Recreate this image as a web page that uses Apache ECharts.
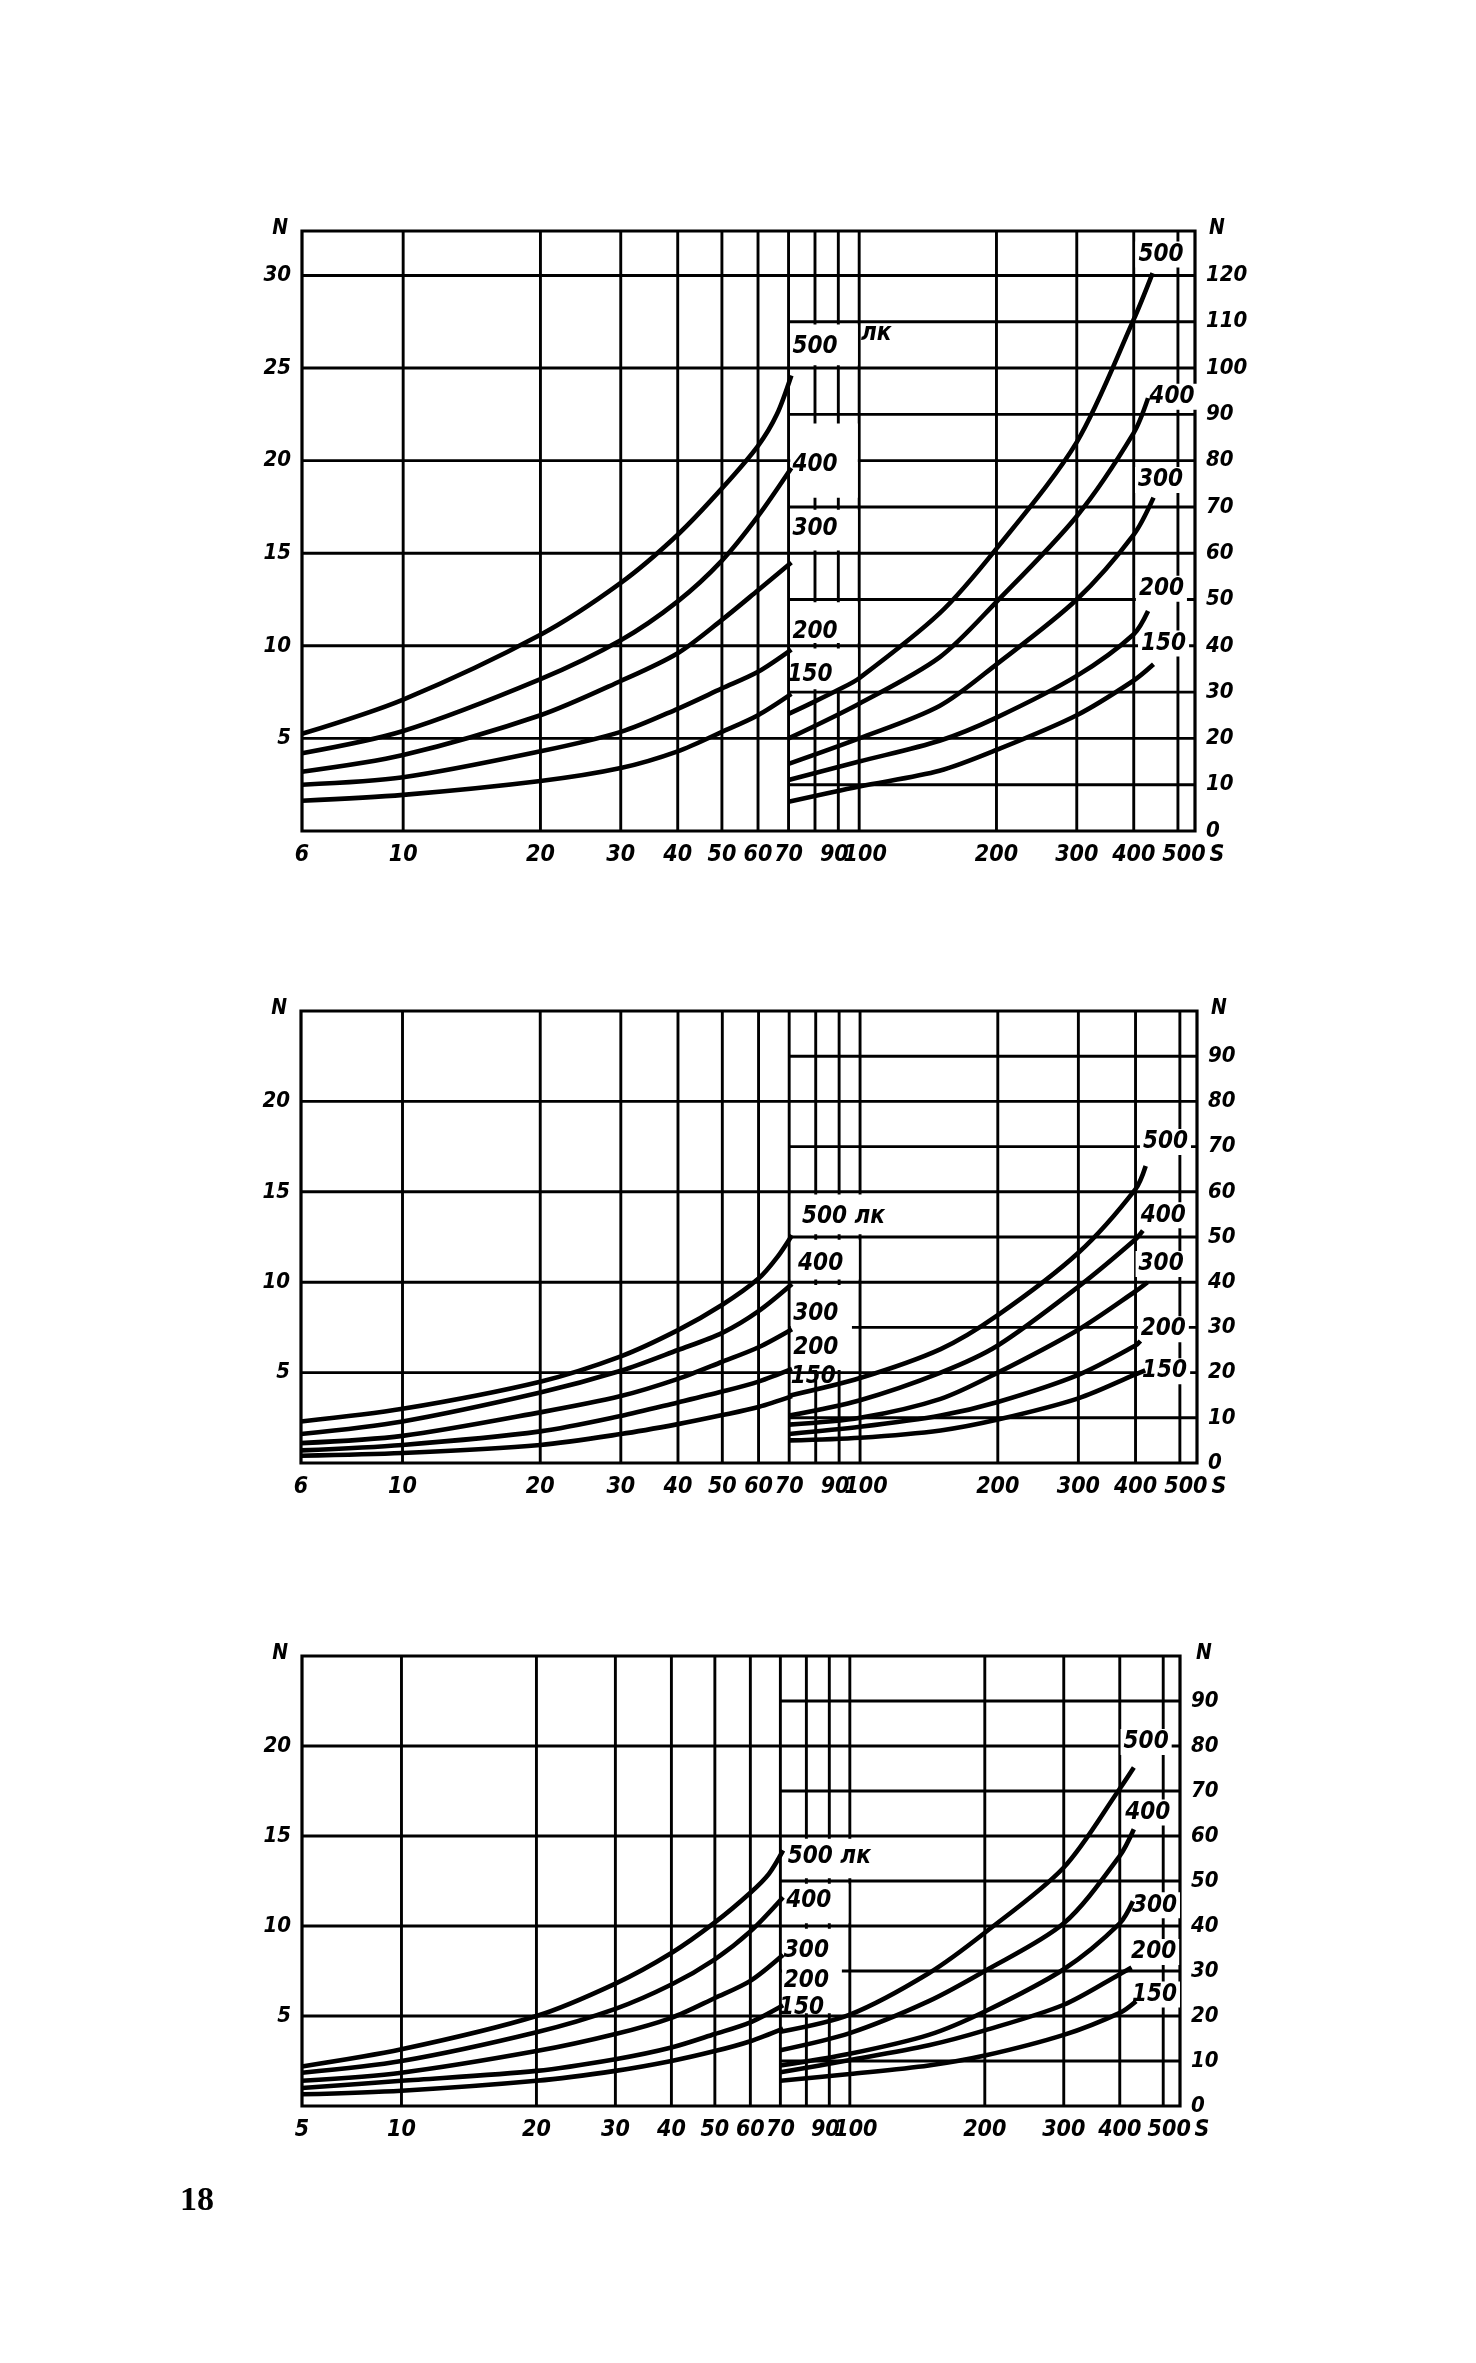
<!DOCTYPE html>
<html><head><meta charset="utf-8">
<script src="https://cdn.jsdelivr.net/npm/echarts@6/dist/echarts.min.js"></script>
<style>html,body{margin:0;padding:0;background:#fff}#c{width:1476px;height:2363px}</style>
</head><body><div id="c"></div>
<script>
// ===================== DATA =====================
// S (x, log scale) ; N (left scale for S<=70, right scale for S>=70)
const xTickValues = [6, 10, 20, 30, 40, 50, 60, 70, 90, 100, 200, 300, 400, 500];
const xTickLabelsA = ['6','10','20','30','40','50','60','70','90','100','200','300','400','500'];
const xTickLabelsC = ['5','10','20','30','40','50','60','70','90','100','200','300','400','500'];
const vGridS = [10, 20, 30, 40, 50, 60, 70, 80, 90, 100, 200, 300, 400, 500];
const leftTicks1 = [5, 10, 15, 20, 25, 30];
const rightTicks1 = [10, 20, 30, 40, 50, 60, 70, 80, 90, 100, 110, 120];
const leftTicks23 = [5, 10, 15, 20];
const rightTicks23 = [10, 20, 30, 40, 50, 60, 70, 80, 90];
const luxNames = ['500', '400', '300', '200', '150'];

// Panel 1
const p1L500 = [[6,5.25],[10,7.1],[20,10.6],[30,13.4],[40,16.0],[50,18.5],[60,20.8],[66,22.5],[71,24.6]];
const p1L400 = [[6,4.2],[10,5.4],[20,8.2],[30,10.3],[40,12.4],[50,14.6],[60,17.0],[71,19.6]];
const p1L300 = [[6,3.2],[10,4.1],[20,6.25],[30,8.1],[40,9.6],[50,11.4],[60,13.0],[71,14.5]];
const p1L200 = [[6,2.5],[10,2.9],[20,4.3],[30,5.35],[40,6.6],[50,7.7],[60,8.6],[71,9.8]];
const p1L150 = [[6,1.63],[10,1.95],[20,2.7],[30,3.4],[40,4.3],[50,5.35],[60,6.25],[71,7.4]];
const p1R500 = [[70,25.3],[80,28],[90,30.5],[100,33],[150,47],[200,61],[300,84],[400,110.5],[440,120.5]];
const p1R400 = [[70,20],[100,27.5],[150,37.5],[200,49.5],[300,68],[400,86],[430,93.5]];
const p1R300 = [[70,14.5],[100,20],[150,27],[200,36],[300,50],[400,64],[442,72]];
const p1R200 = [[70,11],[100,15],[150,19.5],[200,24.5],[300,33.5],[400,42.5],[430,47.5]];
const p1R150 = [[70,6.3],[100,9.6],[150,13.0],[200,17.5],[300,25],[400,32.5],[442,36]];
const p1MidLabels = [[80,104.5,'500'],[80,79,'400'],[80,65.3,'300'],[80,43,'200'],[78,33.7,'150']];
const p1UnitLabel = [[109,107.3,'лк']];
const p1EndLabels = [[459,124.5,'500'],[485,93.8,'400'],[458,75.8,'300'],[460,52.3,'200'],[465,40.5,'150']];

// Panel 2
const p2L500 = [[6,2.3],[10,3.0],[20,4.5],[30,5.9],[40,7.35],[50,8.75],[60,10.2],[66,11.4],[71,12.6]];
const p2L400 = [[6,1.6],[10,2.3],[20,3.9],[30,5.1],[40,6.25],[50,7.2],[60,8.4],[71,9.9]];
const p2L300 = [[6,1.1],[10,1.5],[20,2.8],[30,3.7],[40,4.65],[50,5.6],[60,6.4],[71,7.4]];
const p2L200 = [[6,0.7],[10,1.0],[20,1.75],[30,2.6],[40,3.35],[50,3.95],[60,4.5],[71,5.2]];
const p2L150 = [[6,0.4],[10,0.55],[20,1.0],[30,1.6],[40,2.15],[50,2.65],[60,3.1],[71,3.7]];
const p2R500 = [[70,14.9],[100,18.8],[150,25.2],[200,32.7],[300,46.5],[400,60.6],[421,65.7]];
const p2R400 = [[70,10.5],[100,13.9],[150,20],[200,26],[300,39],[400,49.5],[415,51.4]];
const p2R300 = [[70,8.5],[100,10],[150,14.2],[200,20],[300,29.5],[400,38],[425,40]];
const p2R200 = [[70,6.4],[100,8],[150,10.5],[200,13.5],[300,19.5],[400,26],[410,27]];
const p2R150 = [[70,5],[100,5.6],[150,7.2],[200,9.6],[300,14.3],[400,19.6],[420,20.5]];
const p2MidLabels = [[92,54.5,'500 лк'],[82,44,'400'],[80,33,'300'],[80,25.5,'200'],[79,19,'150']];
const p2EndLabels = [[465,71,'500'],[460,54.8,'400'],[455,44,'300'],[460,29.6,'200'],[463,20.3,'150']];

// Panel 3
const p3L500 = [[6,2.2],[10,3.15],[20,5.0],[30,6.8],[40,8.5],[50,10.2],[60,11.85],[66,12.9],[71,14.2]];
const p3L400 = [[6,1.85],[10,2.5],[20,4.1],[30,5.4],[40,6.75],[50,8.15],[60,9.7],[71,11.6]];
const p3L300 = [[6,1.4],[10,1.85],[20,3.05],[30,4.0],[40,4.9],[50,6.0],[60,6.95],[71,8.4]];
const p3L200 = [[6,1.0],[10,1.4],[20,1.95],[30,2.6],[40,3.25],[50,4.0],[60,4.65],[71,5.6]];
const p3L150 = [[6,0.65],[10,0.85],[20,1.4],[30,1.95],[40,2.5],[50,3.05],[60,3.6],[71,4.3]];
const p3R500 = [[70,16.5],[100,20.3],[150,29.5],[200,38.5],[300,53],[400,70.5],[430,75.2]];
const p3R400 = [[70,12.4],[100,16.2],[150,23.3],[200,30],[300,40.6],[400,55.6],[430,61.5]];
const p3R300 = [[70,9],[100,11.6],[150,15.8],[200,21],[300,30.4],[400,40.6],[428,45.5]];
const p3R200 = [[70,7.5],[100,10.2],[150,13.5],[200,16.8],[300,22.5],[400,29.3],[425,30.8]];
const p3R150 = [[70,5.6],[100,7.1],[150,9],[200,11.2],[300,15.8],[400,20.7],[435,23.3]];
const p3MidLabels = [[90,55.3,'500 лк'],[81,45.7,'400'],[80,34.5,'300'],[80,27.8,'200'],[78,21.9,'150']];
const p3EndLabels = [[458,80.9,'500'],[462,65.2,'400'],[478,44.6,'300'],[476,34.2,'200'],[478,24.8,'150']];

// ===================== LAYOUT / STYLE =====================
const FONT = "'DejaVu Sans Condensed','DejaVu Sans',sans-serif";
const panels = [
  {grid:{left:302, top:231, width:893, height:600}, xMin:6, xMax:545, lMax:32.4, rMax:129.6, lLab:30, rLab:120,
   lTicks:leftTicks1, rTicks:rightTicks1, xLabels:xTickLabelsA,
   left:[p1L500,p1L400,p1L300,p1L200,p1L150], right:[p1R500,p1R400,p1R300,p1R200,p1R150],
   mid:p1MidLabels.concat(p1UnitLabel), end:p1EndLabels,
   boxes:[[70.6,99.3,100.6,109.4],[70.6,99.3,72,88],[70.6,99.3,60.6,69.4],[70.6,99.3,40.6,49.4],[70.6,99.3,30.6,39.4]]},
  {grid:{left:301, top:1011, width:896, height:452}, xMin:6, xMax:545, lMax:25, rMax:100, lLab:20, rLab:90,
   lTicks:leftTicks23, rTicks:rightTicks23, xLabels:xTickLabelsA,
   left:[p2L500,p2L400,p2L300,p2L200,p2L150], right:[p2R500,p2R400,p2R300,p2R200,p2R150],
   mid:p2MidLabels, end:p2EndLabels,
   boxes:[[70.6,122,50.6,59.4],[70.6,99.3,40.6,49.4],[70.6,96,20.6,39.4]]},
  {grid:{left:302, top:1656, width:878, height:450}, xMin:6, xMax:545, lMax:25, rMax:100, lLab:20, rLab:90,
   lTicks:leftTicks23, rTicks:rightTicks23, xLabels:xTickLabelsC,
   left:[p3L500,p3L400,p3L300,p3L200,p3L150], right:[p3R500,p3R400,p3R300,p3R200,p3R150],
   mid:p3MidLabels, end:p3EndLabels,
   boxes:[[70.6,120,50.6,59.4],[70.6,99.3,40.6,49.4],[70.6,96,20.6,39.4]]}
];
const labelNudge = {'90':[-4,0], '100':[6,0], '500':[6,0]};
const textBase = {fontFamily:FONT, fontStyle:'italic', fontWeight:'bold', color:'#000', opacity:1,
  textBorderWidth:0, textBorderColor:'transparent'};

function segSeries(gi, yIdx, segs, z){
  return {type:'custom', xAxisIndex:gi, yAxisIndex:yIdx, z:z, silent:true, clip:false,
    data:segs, encode:{x:[0,2], y:[1,3]},
    renderItem:function(p, api){
      const a = api.coord([api.value(0), api.value(1)]);
      const b = api.coord([api.value(2), api.value(3)]);
      return {type:'line', shape:{x1:a[0],y1:a[1],x2:b[0],y2:b[1]}, style:{stroke:'#000', lineWidth:2.9}};
    }};
}
function boxSeries(gi, yIdx, boxes, z){
  return {type:'custom', xAxisIndex:gi, yAxisIndex:yIdx, z:z, silent:true, clip:false,
    data:boxes, encode:{x:[0,1], y:[2,3]},
    renderItem:function(p, api){
      const a = api.coord([api.value(0), api.value(3)]);
      const b = api.coord([api.value(1), api.value(2)]);
      return {type:'rect', shape:{x:a[0], y:a[1], width:b[0]-a[0], height:b[1]-a[1]}, style:{fill:'#fff'}};
    }};
}
function textSeries(gi, yIdx, items, z, extra){
  return {type:'scatter', xAxisIndex:gi, yAxisIndex:yIdx, z:z, silent:true, clip:false,
    symbolSize:0, itemStyle:{color:'#000'},
    data:items,
    label:Object.assign({show:true, position:'inside', formatter:function(p){return p.value[2];},
      fontSize:24}, textBase, extra||{})};
}

const option = {animation:false, backgroundColor:'#fff', grid:[], xAxis:[], yAxis:[], series:[],
  graphic:[{type:'text', left:180, top:2184, style:{text:'18', font:"bold 34px 'Liberation Serif', 'DejaVu Serif', serif", fill:'#000'}}]};

panels.forEach(function(P, gi){
  option.grid.push(Object.assign({show:true, borderColor:'#000', borderWidth:3.2, backgroundColor:'#fff'}, P.grid));
  option.xAxis.push({type:'log', logBase:10, gridIndex:gi, min:P.xMin, max:P.xMax,
    axisLine:{show:false}, axisTick:{show:false}, axisLabel:{show:false}, splitLine:{show:false}});
  const nameStyleL = Object.assign({fontSize:21, align:'right', verticalAlign:'middle', padding:[0,14,0,0]}, textBase);
  const nameStyleR = Object.assign({fontSize:21, align:'left', verticalAlign:'middle', padding:[0,0,0,gi===2?16:14]}, textBase);
  option.yAxis.push({type:'value', gridIndex:gi, position:'left', min:0, max:P.lMax, interval:5,
    name:'N', nameLocation:'end', nameGap:2, nameTextStyle:nameStyleL,
    axisLine:{show:false}, axisTick:{show:false}, splitLine:{show:false},
    axisLabel:Object.assign({fontSize:22, margin:11, formatter:function(v){return (v>0 && v<=P.lLab && v%5===0)? String(v):'';}}, textBase)});
  option.yAxis.push({type:'value', gridIndex:gi, position:'right', min:0, max:P.rMax, interval:10,
    name:'N', nameLocation:'end', nameGap:2, nameTextStyle:nameStyleR,
    axisLine:{show:false}, axisTick:{show:false}, splitLine:{show:false},
    axisLabel:Object.assign({fontSize:22, margin:11, formatter:function(v){return (v<=P.rLab && Math.abs(v%10)<1e-9)? String(v):'';}}, textBase)});
  const yl = gi*2, yr = gi*2+1;
  // grid lines
  const vSegs = vGridS.map(function(s){return [s, 0, s, P.lMax];});
  const lSegs = P.lTicks.map(function(v){return [P.xMin, v, 70, v];});
  const rSegs = P.rTicks.map(function(v){return [70, v, P.xMax, v];});
  option.series.push(segSeries(gi, yl, vSegs.concat(lSegs), 1));
  option.series.push(segSeries(gi, yr, rSegs, 1));
  // white label boxes
  option.series.push(boxSeries(gi, yr, P.boxes, 2));
  // labels
  option.series.push(textSeries(gi, yr, P.mid, 3, {}));
  option.series.push(textSeries(gi, yr, P.end, 3, {backgroundColor:'#fff', padding:[1,3]}));
  // x tick labels
  const xl = xTickValues.map(function(s, i){
    const lab = P.xLabels[i];
    const it = {value:[s, 0, lab]};
    if (labelNudge[lab]) it.label = {offset:labelNudge[lab]};
    return it;
  });
  xl.push({value:[P.xMax, 0, 'S'], label:{offset:[22,0]}});
  option.series.push(textSeries(gi, yl, xl, 3, {position:'bottom', distance:13, fontSize:23}));
  // curves
  P.left.forEach(function(d, k){
    option.series.push({type:'line', name:'L'+luxNames[k], xAxisIndex:gi, yAxisIndex:yl, data:d, z:5,
      smooth:0.3, showSymbol:false, symbol:'none', silent:true, lineStyle:{color:'#000', width:4.6}});
  });
  P.right.forEach(function(d, k){
    option.series.push({type:'line', name:'R'+luxNames[k], xAxisIndex:gi, yAxisIndex:yr, data:d, z:5,
      smooth:0.3, showSymbol:false, symbol:'none', silent:true, lineStyle:{color:'#000', width:4.6}});
  });
});

const chart = echarts.init(document.getElementById('c'), null, {renderer:'canvas'});
chart.setOption(option);
</script></body></html>
